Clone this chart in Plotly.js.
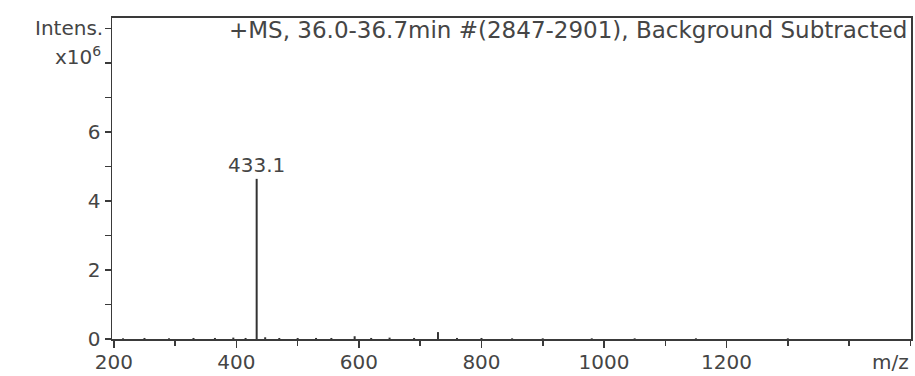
<!DOCTYPE html>
<html>
<head>
<meta charset="utf-8">
<script src="https://cdn.plot.ly/plotly-3.0.1.min.js"></script>
<style>
html,body{margin:0;padding:0;background:#fff;}
#chart{width:915px;height:376px;}
</style>
</head>
<body>
<div id="chart"></div>
<script>
// m/z of each centroid peak and its intensity (x10^6)
const peakMz = [215, 250, 290, 330, 365, 395, 415, 433.1, 447, 470, 500, 530, 555, 593, 620, 650, 690, 729, 760, 800, 850, 900, 980, 1050, 1150, 1300];
const peakIntensity = [0.02, 0.03, 0.02, 0.03, 0.03, 0.04, 0.03, 4.64, 0.05, 0.03, 0.03, 0.03, 0.03, 0.08, 0.03, 0.04, 0.03, 0.20, 0.03, 0.03, 0.02, 0.02, 0.02, 0.02, 0.02, 0.02];
const labelMz = 433.1;
const labelText = "433.1";
const titleText = "+MS, 36.0-36.7min #(2847-2901), Background Subtracted";
const xTickVals = [200, 400, 600, 800, 1000, 1200];
const xTickText = ["200", "400", "600", "800", "1000", "1200"];
const xMinorVals = [300, 500, 700, 900, 1100, 1300, 1400, 1500];
const yTickVals = [0, 2, 4, 6];
const yTickText = ["0", "2", "4", "6"];
const yMinorVals = [1, 3, 5, 7, 8, 9];

const sx = [], sy = [];
peakMz.forEach((m, i) => { sx.push(m, m, null); sy.push(0, peakIntensity[i], null); });

const font = {family: "DejaVu Sans, Arial, sans-serif", size: 20, color: "#454545"};
const lineCol = "#3a3a3a";

const data = [{
  type: "scatter", mode: "lines", x: sx, y: sy,
  line: {color: "#333", width: 2}, hoverinfo: "skip", showlegend: false
}];

const labelY = peakIntensity[peakMz.indexOf(labelMz)];

const layout = {
  width: 915, height: 376,
  margin: {l: 112, r: 4, t: 18, b: 37},
  paper_bgcolor: "#fff", plot_bgcolor: "#fff",
  font: font,
  showlegend: false,
  xaxis: {
    range: [197, 1501], showgrid: false, zeroline: false,
    showline: true, linecolor: lineCol, linewidth: 2, mirror: true,
    ticks: "outside", ticklen: 7, tickwidth: 1.5, tickcolor: lineCol,
    tickmode: "array", tickvals: xTickVals, ticktext: xTickText,
    ticklabelstandoff: -3,
    minor: {tickmode: "array", tickvals: xMinorVals, ticks: "outside", ticklen: 5, tickwidth: 1.5, tickcolor: lineCol},
    tickfont: font
  },
  yaxis: {
    range: [0, 9.3], showgrid: false, zeroline: false,
    showline: true, linecolor: lineCol, linewidth: 1.5, mirror: true,
    ticks: "outside", ticklen: 6, tickwidth: 1.5, tickcolor: lineCol,
    tickmode: "array", tickvals: yTickVals, ticktext: yTickText,
    minor: {tickmode: "array", tickvals: yMinorVals, ticks: "outside", ticklen: 6, tickwidth: 1.5, tickcolor: lineCol},
    tickfont: font
  },
  annotations: [
    {xref: "paper", yref: "paper", x: 1, y: 1, xanchor: "right", yanchor: "top", yshift: 3, xshift: -2,
     text: titleText, showarrow: false, font: Object.assign({}, font, {size: 23})},
    {xref: "paper", yref: "y", x: 0, y: 9, xanchor: "right", yanchor: "middle", xshift: -7,
     text: "Intens.", showarrow: false, font: font},
    {xref: "paper", yref: "y", x: 0, y: 8, xanchor: "right", yanchor: "middle", xshift: -9, yshift: 7,
     text: "x10<sup>6</sup>", showarrow: false, font: font},
    {xref: "x", yref: "y", x: labelMz, y: labelY, xanchor: "center", yanchor: "bottom", yshift: 0,
     text: labelText, showarrow: false, font: font},
    {xref: "paper", yref: "paper", x: 1, y: 0, xanchor: "right", yanchor: "top", yshift: -9,
     text: "m/z", showarrow: false, font: font}
  ]
};

Plotly.newPlot("chart", data, layout, {displayModeBar: false, staticPlot: true});
</script>
</body>
</html>
